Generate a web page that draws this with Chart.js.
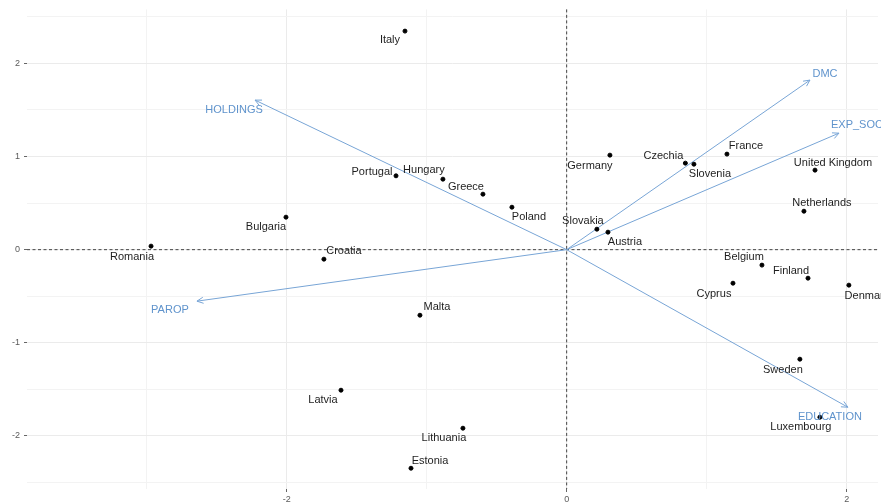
<!DOCTYPE html>
<html>
<head>
<meta charset="utf-8">
<script src="https://cdn.jsdelivr.net/npm/chart.js@4/dist/chart.umd.min.js"></script>
<style>
  html, body { margin: 0; padding: 0; background: #ffffff; }
  #wrap { width: 881px; height: 504px; }
</style>
</head>
<body>
<div id="wrap"><canvas id="biplot" width="881" height="504"></canvas></div>
<script>
// Country scores on the first two principal components
const countries = ['Italy', 'Bulgaria', 'Romania', 'Croatia', 'Portugal', 'Hungary', 'Greece', 'Poland',
  'Germany', 'Slovakia', 'Austria', 'Czechia', 'Slovenia', 'France', 'United Kingdom', 'Netherlands',
  'Belgium', 'Finland', 'Cyprus', 'Denmark', 'Sweden', 'Luxembourg', 'Malta', 'Latvia', 'Lithuania', 'Estonia'];
const pc1 = [-1.155, -2.005, -2.969, -1.734, -1.219, -0.884, -0.598, -0.391,
  0.309, 0.216, 0.295, 0.848, 0.909, 1.145, 1.774, 1.695,
  1.395, 1.724, 1.188, 2.016, 1.666, 1.809, -1.048, -1.612, -0.741, -1.112];
const pc2 = [2.347, 0.349, 0.038, -0.102, 0.793, 0.757, 0.596, 0.456,
  1.015, 0.220, 0.188, 0.929, 0.918, 1.026, 0.854, 0.413,
  -0.166, -0.306, -0.360, -0.381, -1.176, -1.799, -0.704, -1.509, -1.917, -2.347];

// Variable loadings (arrow tips)
const variables = ['HOLDINGS', 'PAROP', 'DMC', 'EXP_SOC', 'EDUCATION'];
const loadPc1 = [-2.226, -2.641, 1.738, 1.945, 2.009];
const loadPc2 = [1.606, -0.553, 1.821, 1.251, -1.692];

// Axis breaks
const xGrid = [-3, -2, -1, 0, 1, 2];
const xLabelled = [-2, 0, 2];
const yGrid = [-2.5, -2, -1.5, -1, -0.5, 0, 0.5, 1, 1.5, 2, 2.5];
const yLabelled = [-2, -1, 0, 1, 2];

// Text placement relative to each mark, in pixels
const countryLabelNudge = [[-15, 9], [-20, 10], [-19, 11], [20, -8], [-24, -4], [-19, -9], [-17, -7], [17, 10],
  [-20, 11], [-14, -8], [17, 10], [-22, -7], [16, 10], [19, -8], [18, -7], [18, -8],
  [-18, -8], [-17, -7], [-19, 11], [18, 11], [-17, 11], [-19, 10], [17, -8], [-18, 10], [-19, 10], [19, -7]];
const variableLabelNudge = [[-21, 10], [-27, 9], [15, -6], [18, -8], [-18, 10]];

const ARROW_COLOR = '#78a5d6';
const VAR_TEXT_COLOR = '#5f93cc';
const TEXT_FONT = '11px "Liberation Sans", Arial, sans-serif';

const pointData = countries.map((c, i) => ({ x: pc1[i], y: pc2[i] }));
const arrowSets = variables.map((v, i) => ({
  type: 'line',
  label: v,
  data: [{ x: 0, y: 0 }, { x: loadPc1[i], y: loadPc2[i] }],
  borderColor: ARROW_COLOR,
  borderWidth: 1,
  pointRadius: 0,
  fill: false,
  order: 2
}));

const biplotDecor = {
  id: 'biplotDecor',
  beforeDatasetsDraw(chart) {
    const { ctx, chartArea: a, scales: { x, y } } = chart;
    const x0 = x.getPixelForValue(0), y0 = y.getPixelForValue(0);
    ctx.save();
    ctx.strokeStyle = '#444444';
    ctx.lineWidth = 1;
    ctx.setLineDash([3, 2.5]);
    ctx.beginPath();
    ctx.moveTo(a.left, y0); ctx.lineTo(a.right, y0);
    ctx.moveTo(x0, a.top); ctx.lineTo(x0, a.bottom);
    ctx.stroke();
    ctx.restore();
  },
  afterDatasetsDraw(chart) {
    const { ctx, scales: { x, y } } = chart;
    const x0 = x.getPixelForValue(0), y0 = y.getPixelForValue(0);
    ctx.save();
    // arrow heads
    ctx.strokeStyle = ARROW_COLOR;
    ctx.lineWidth = 1;
    variables.forEach((v, i) => {
      const px = x.getPixelForValue(loadPc1[i]), py = y.getPixelForValue(loadPc2[i]);
      const ang = Math.atan2(py - y0, px - x0);
      const len = 7, spread = Math.PI / 7;
      ctx.beginPath();
      ctx.moveTo(px - len * Math.cos(ang - spread), py - len * Math.sin(ang - spread));
      ctx.lineTo(px, py);
      ctx.lineTo(px - len * Math.cos(ang + spread), py - len * Math.sin(ang + spread));
      ctx.stroke();
    });
    ctx.font = TEXT_FONT;
    ctx.textAlign = 'center';
    ctx.textBaseline = 'middle';
    // variable names
    ctx.fillStyle = VAR_TEXT_COLOR;
    variables.forEach((v, i) => {
      const px = x.getPixelForValue(loadPc1[i]), py = y.getPixelForValue(loadPc2[i]);
      ctx.fillText(v, px + variableLabelNudge[i][0], py + variableLabelNudge[i][1]);
    });
    // country names
    ctx.fillStyle = '#1e1e1e';
    countries.forEach((c, i) => {
      const px = x.getPixelForValue(pc1[i]), py = y.getPixelForValue(pc2[i]);
      ctx.fillText(c, px + countryLabelNudge[i][0], py + countryLabelNudge[i][1]);
    });
    ctx.restore();
  }
};

const gridColor = (major) => (ctx) => {
  const v = ctx.tick ? ctx.tick.value : null;
  return major(v) ? '#ebebeb' : '#f3f3f3';
};

new Chart(document.getElementById('biplot'), {
  type: 'scatter',
  data: {
    datasets: [
      {
        label: 'countries',
        data: pointData,
        backgroundColor: '#000000',
        borderColor: '#000000',
        pointRadius: 2,
        pointHoverRadius: 2,
        order: 1
      },
      ...arrowSets
    ]
  },
  options: {
    responsive: false,
    animation: false,
    events: [],
    layout: { padding: { top: 9, left: 0, right: 0, bottom: 0 } },
    plugins: { legend: { display: false }, tooltip: { enabled: false } },
    scales: {
      x: {
        type: 'linear',
        min: -3.855,
        max: 2.224,
        afterBuildTicks: (s) => { s.ticks = xGrid.map(v => ({ value: v })); },
        afterFit: (s) => { s.height = 15; },
        border: { display: false },
        grid: {
          color: gridColor(v => Number.isInteger(v) && v % 2 === 0),
          lineWidth: 1,
          tickLength: 3,
          tickColor: (ctx) => xLabelled.includes(ctx.tick && ctx.tick.value) ? '#666666' : 'rgba(0,0,0,0)'
        },
        ticks: {
          autoSkip: false,
          maxRotation: 0,
          padding: 2,
          color: '#5a5a5a',
          font: { size: 9, family: '"Liberation Sans", Arial, sans-serif' },
          callback: (v) => xLabelled.includes(v) ? String(v) : ''
        }
      },
      y: {
        type: 'linear',
        min: -2.57,
        max: 2.58,
        afterBuildTicks: (s) => { s.ticks = yGrid.map(v => ({ value: v })); },
        afterFit: (s) => { s.width = 27; },
        border: { display: false },
        grid: {
          color: gridColor(v => Number.isInteger(v)),
          lineWidth: 1,
          tickLength: 3,
          tickColor: (ctx) => yLabelled.includes(ctx.tick && ctx.tick.value) ? '#666666' : 'rgba(0,0,0,0)'
        },
        ticks: {
          autoSkip: false,
          padding: 4,
          color: '#5a5a5a',
          font: { size: 9, family: '"Liberation Sans", Arial, sans-serif' },
          callback: (v) => yLabelled.includes(v) ? String(v) : ''
        }
      }
    }
  },
  plugins: [biplotDecor]
});
</script>
</body>
</html>
